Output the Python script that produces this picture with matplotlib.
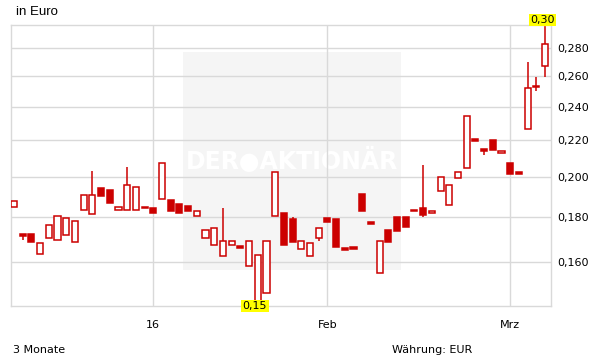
import matplotlib
matplotlib.use("Agg")
import matplotlib.pyplot as plt
from matplotlib.patches import Rectangle
from matplotlib.ticker import FixedLocator, NullLocator

# daily candles, oldest first (values in Euro)
opens = [0.1846, 0.1713, 0.1722, 0.1634, 0.1705, 0.1696, 0.1718, 0.1687, 0.1832, 0.1812,
         0.1939, 0.1929, 0.1832, 0.1832, 0.1832, 0.1840, 0.1841, 0.1886, 0.1880, 0.1860,
         0.1850, 0.1802, 0.1705, 0.1674, 0.1625, 0.1674, 0.1660, 0.1583, 0.1445, 0.1474,
         0.1802, 0.1817, 0.1791, 0.1656, 0.1625, 0.1705, 0.1796, 0.1788, 0.1651, 0.1660,
         0.1909, 0.1768, 0.1555, 0.1739, 0.1797, 0.1797, 0.1826, 0.1842, 0.1820, 0.1925,
         0.1856, 0.1994, 0.2043, 0.2196, 0.2138, 0.2198, 0.2124, 0.2070, 0.2014, 0.2263,
         0.2533, 0.2668]
closes = [0.1878, 0.1713, 0.1686, 0.1681, 0.1760, 0.1805, 0.1796, 0.1779, 0.1908, 0.1908,
          0.1903, 0.1864, 0.1849, 0.1958, 0.1947, 0.1840, 0.1820, 0.2070, 0.1830, 0.1820,
          0.1830, 0.1826, 0.1738, 0.1747, 0.1691, 0.1690, 0.1660, 0.1691, 0.1628, 0.1691,
          0.2024, 0.1672, 0.1687, 0.1690, 0.1681, 0.1747, 0.1774, 0.1663, 0.1651, 0.1655,
          0.1830, 0.1768, 0.1691, 0.1686, 0.1734, 0.1752, 0.1826, 0.1810, 0.1828, 0.1996,
          0.1957, 0.2024, 0.2341, 0.2196, 0.2138, 0.2141, 0.2137, 0.2013, 0.2014, 0.2518,
          0.2525, 0.2830]
highs = [0.1878, 0.1713, 0.1722, 0.1681, 0.1760, 0.1805, 0.1796, 0.1779, 0.1908, 0.2029,
         0.1939, 0.1929, 0.1849, 0.2052, 0.1947, 0.1840, 0.1841, 0.2070, 0.1880, 0.1860,
         0.1850, 0.1826, 0.1738, 0.1747, 0.1843, 0.1690, 0.1660, 0.1691, 0.1628, 0.1691,
         0.2024, 0.1817, 0.1801, 0.1690, 0.1681, 0.1747, 0.1796, 0.1788, 0.1651, 0.1660,
         0.1909, 0.1768, 0.1691, 0.1739, 0.1797, 0.1797, 0.1826, 0.2063, 0.1828, 0.1996,
         0.1957, 0.2024, 0.2341, 0.2196, 0.2150, 0.2198, 0.2137, 0.2070, 0.2014, 0.2695,
         0.2595, 0.2960]
lows = [0.1846, 0.1694, 0.1686, 0.1634, 0.1705, 0.1696, 0.1718, 0.1687, 0.1832, 0.1812,
        0.1903, 0.1864, 0.1832, 0.1832, 0.1832, 0.1840, 0.1820, 0.1886, 0.1830, 0.1820,
        0.1830, 0.1802, 0.1705, 0.1674, 0.1625, 0.1674, 0.1660, 0.1583, 0.1426, 0.1474,
        0.1802, 0.1672, 0.1687, 0.1656, 0.1625, 0.1691, 0.1774, 0.1663, 0.1651, 0.1655,
        0.1830, 0.1768, 0.1555, 0.1686, 0.1734, 0.1752, 0.1826, 0.1797, 0.1820, 0.1925,
        0.1856, 0.1994, 0.2043, 0.2196, 0.2118, 0.2141, 0.2124, 0.2013, 0.2014, 0.2263,
        0.2499, 0.2591]

month_pos = [16, 36, 57]
month_labels = ["16", "Feb", "Mrz"]
y_ticks = [0.16, 0.18, 0.20, 0.22, 0.24, 0.26, 0.28]
hi_label = "0,30"
lo_label = "0,15"

red = "#cc0000"
grid_col = "#d9d9d9"

fig = plt.figure(figsize=(6.11, 3.64), dpi=100)
ax = fig.add_axes([10.7 / 611, 58 / 364, 539.8 / 611, 281 / 364])

# watermark panel
ax.add_patch(Rectangle((0.319, 0.128), 0.404, 0.776, transform=ax.transAxes,
                       facecolor="#f5f5f5", edgecolor="none", zorder=0.1))
ax.text(0.521, 0.516, "DER\u25cfAKTIONÄR", transform=ax.transAxes, color="white",
        fontsize=17, fontweight="bold", ha="center", va="center", zorder=0.2)

n = len(opens)
for i in range(n):
    o, c, h, l = opens[i], closes[i], highs[i], lows[i]
    ax.vlines(i, l, h, color=red, lw=1.1, zorder=2)
    up = c > o
    bottom = min(o, c)
    height = max(abs(c - o), bottom * 0.004)
    ax.bar(i, height, bottom=bottom, width=0.7, color="white" if up else red,
           edgecolor=red, linewidth=1.1, zorder=3)

# high / low markers
imax = highs.index(max(highs))
imin = lows.index(min(lows))
box = dict(boxstyle="square,pad=0.12", facecolor="#ffff00", edgecolor="none")
ax.annotate(hi_label, (imax, highs[imax]), xytext=(-2, 1), textcoords="offset points",
            ha="center", va="bottom", fontsize=8, bbox=box, annotation_clip=False, zorder=5)
ax.annotate(lo_label, (imin, lows[imin]), xytext=(-2, 0), textcoords="offset points",
            ha="center", va="center", fontsize=8, bbox=box, annotation_clip=False, zorder=5)

ax.set_yscale("log")
ax.set_ylim(0.1426, 0.2971)
ax.set_xlim(-0.38, 61.63)
ax.yaxis.set_major_locator(FixedLocator(y_ticks))
ax.yaxis.set_minor_locator(NullLocator())
ax.set_yticklabels([f"{v:.3f}".replace(".", ",") for v in y_ticks])
ax.yaxis.tick_right()
ax.set_xticks(month_pos)
ax.set_xticklabels(month_labels)
ax.tick_params(axis="both", length=0, labelsize=8, colors="black")
ax.tick_params(axis="y", pad=5)
ax.tick_params(axis="x", pad=10)

ax.set_axisbelow(True)
ax.grid(True, color=grid_col, linewidth=1)
for s in ax.spines.values():
    s.set_color(grid_col)
    s.set_linewidth(1)

fig.text(16 / 611, 1 - 12 / 364, "in Euro", fontsize=9.5, family="Liberation Sans",
         va="center", ha="left")
fig.text(13 / 611, 1 - 350 / 364, "3 Monate", fontsize=8, va="center", ha="left")
fig.text(392 / 611, 1 - 350 / 364, "Währung: EUR", fontsize=8, va="center", ha="left")

fig.savefig("out.png", dpi=100)
